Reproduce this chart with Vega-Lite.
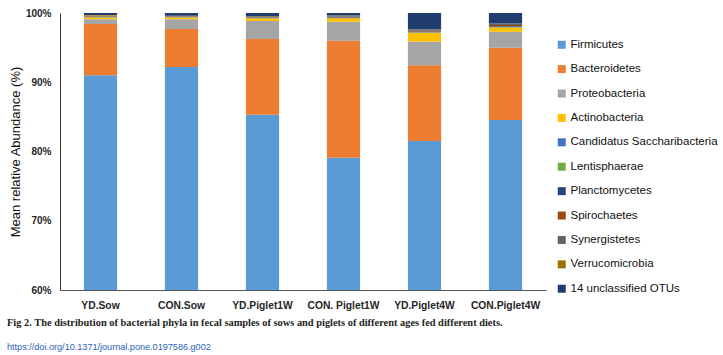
{
  "$schema": "https://vega.github.io/schema/vega-lite/v6.json",
  "width": 486,
  "height": 277,
  "autosize": {"type": "none"},
  "padding": {"left": 60, "top": 13, "right": 177, "bottom": 65},
  "background": "white",
  "title": {
    "text": "Fig 2.  The distribution of bacterial phyla in fecal samples of sows and piglets of different ages fed different diets.",
    "subtitle": "https://doi.org/10.1371/journal.pone.0197586.g002",
    "orient": "bottom",
    "anchor": "start",
    "frame": "group",
    "dx": -53,
    "offset": 8,
    "font": "Liberation Serif",
    "fontSize": 10.4,
    "fontWeight": "bold",
    "color": "#231f20",
    "subtitleFont": "Liberation Sans",
    "subtitleFontSize": 9.1,
    "subtitleColor": "#2a62b8",
    "subtitlePadding": 14
  },
  "datasets": {
    "phyla": [
      {"phylum": "Firmicutes", "rank": 1},
      {"phylum": "Bacteroidetes", "rank": 2},
      {"phylum": "Proteobacteria", "rank": 3},
      {"phylum": "Actinobacteria", "rank": 4},
      {"phylum": "Candidatus Saccharibacteria", "rank": 5},
      {"phylum": "Lentisphaerae", "rank": 6},
      {"phylum": "Planctomycetes", "rank": 7},
      {"phylum": "Spirochaetes", "rank": 8},
      {"phylum": "Synergistetes", "rank": 9},
      {"phylum": "Verrucomicrobia", "rank": 10},
      {"phylum": "14 unclassified OTUs", "rank": 11}
    ]
  },
  "data": {
    "values": [
      {"sample": "YD.Sow", "phylum": "Firmicutes", "value": 91.0},
      {"sample": "YD.Sow", "phylum": "Bacteroidetes", "value": 7.4},
      {"sample": "YD.Sow", "phylum": "Proteobacteria", "value": 0.7},
      {"sample": "YD.Sow", "phylum": "Actinobacteria", "value": 0.25},
      {"sample": "YD.Sow", "phylum": "Candidatus Saccharibacteria", "value": 0.05},
      {"sample": "YD.Sow", "phylum": "Lentisphaerae", "value": 0.05},
      {"sample": "YD.Sow", "phylum": "Planctomycetes", "value": 0.05},
      {"sample": "YD.Sow", "phylum": "Spirochaetes", "value": 0.1},
      {"sample": "YD.Sow", "phylum": "Synergistetes", "value": 0.05},
      {"sample": "YD.Sow", "phylum": "Verrucomicrobia", "value": 0.05},
      {"sample": "YD.Sow", "phylum": "14 unclassified OTUs", "value": 0.3},
      {"sample": "CON.Sow", "phylum": "Firmicutes", "value": 92.2},
      {"sample": "CON.Sow", "phylum": "Bacteroidetes", "value": 5.5},
      {"sample": "CON.Sow", "phylum": "Proteobacteria", "value": 1.4},
      {"sample": "CON.Sow", "phylum": "Actinobacteria", "value": 0.25},
      {"sample": "CON.Sow", "phylum": "Candidatus Saccharibacteria", "value": 0.05},
      {"sample": "CON.Sow", "phylum": "Lentisphaerae", "value": 0.02},
      {"sample": "CON.Sow", "phylum": "Planctomycetes", "value": 0.05},
      {"sample": "CON.Sow", "phylum": "Spirochaetes", "value": 0.05},
      {"sample": "CON.Sow", "phylum": "Synergistetes", "value": 0.05},
      {"sample": "CON.Sow", "phylum": "Verrucomicrobia", "value": 0.03},
      {"sample": "CON.Sow", "phylum": "14 unclassified OTUs", "value": 0.4},
      {"sample": "YD.Piglet1W", "phylum": "Firmicutes", "value": 85.3},
      {"sample": "YD.Piglet1W", "phylum": "Bacteroidetes", "value": 10.95},
      {"sample": "YD.Piglet1W", "phylum": "Proteobacteria", "value": 2.6},
      {"sample": "YD.Piglet1W", "phylum": "Actinobacteria", "value": 0.4},
      {"sample": "YD.Piglet1W", "phylum": "Candidatus Saccharibacteria", "value": 0.05},
      {"sample": "YD.Piglet1W", "phylum": "Lentisphaerae", "value": 0.02},
      {"sample": "YD.Piglet1W", "phylum": "Planctomycetes", "value": 0.05},
      {"sample": "YD.Piglet1W", "phylum": "Spirochaetes", "value": 0.05},
      {"sample": "YD.Piglet1W", "phylum": "Synergistetes", "value": 0.1},
      {"sample": "YD.Piglet1W", "phylum": "Verrucomicrobia", "value": 0.03},
      {"sample": "YD.Piglet1W", "phylum": "14 unclassified OTUs", "value": 0.45},
      {"sample": "CON. Piglet1W", "phylum": "Firmicutes", "value": 79.1},
      {"sample": "CON. Piglet1W", "phylum": "Bacteroidetes", "value": 16.9},
      {"sample": "CON. Piglet1W", "phylum": "Proteobacteria", "value": 2.75},
      {"sample": "CON. Piglet1W", "phylum": "Actinobacteria", "value": 0.5},
      {"sample": "CON. Piglet1W", "phylum": "Candidatus Saccharibacteria", "value": 0.05},
      {"sample": "CON. Piglet1W", "phylum": "Lentisphaerae", "value": 0.02},
      {"sample": "CON. Piglet1W", "phylum": "Planctomycetes", "value": 0.05},
      {"sample": "CON. Piglet1W", "phylum": "Spirochaetes", "value": 0.1},
      {"sample": "CON. Piglet1W", "phylum": "Synergistetes", "value": 0.15},
      {"sample": "CON. Piglet1W", "phylum": "Verrucomicrobia", "value": 0.03},
      {"sample": "CON. Piglet1W", "phylum": "14 unclassified OTUs", "value": 0.35},
      {"sample": "YD.Piglet4W", "phylum": "Firmicutes", "value": 81.5},
      {"sample": "YD.Piglet4W", "phylum": "Bacteroidetes", "value": 10.95},
      {"sample": "YD.Piglet4W", "phylum": "Proteobacteria", "value": 3.45},
      {"sample": "YD.Piglet4W", "phylum": "Actinobacteria", "value": 1.25},
      {"sample": "YD.Piglet4W", "phylum": "Candidatus Saccharibacteria", "value": 0.05},
      {"sample": "YD.Piglet4W", "phylum": "Lentisphaerae", "value": 0.02},
      {"sample": "YD.Piglet4W", "phylum": "Planctomycetes", "value": 0.1},
      {"sample": "YD.Piglet4W", "phylum": "Spirochaetes", "value": 0.1},
      {"sample": "YD.Piglet4W", "phylum": "Synergistetes", "value": 0.15},
      {"sample": "YD.Piglet4W", "phylum": "Verrucomicrobia", "value": 0.03},
      {"sample": "YD.Piglet4W", "phylum": "14 unclassified OTUs", "value": 2.4},
      {"sample": "CON.Piglet4W", "phylum": "Firmicutes", "value": 84.55},
      {"sample": "CON.Piglet4W", "phylum": "Bacteroidetes", "value": 10.45},
      {"sample": "CON.Piglet4W", "phylum": "Proteobacteria", "value": 2.3},
      {"sample": "CON.Piglet4W", "phylum": "Actinobacteria", "value": 0.6},
      {"sample": "CON.Piglet4W", "phylum": "Candidatus Saccharibacteria", "value": 0.05},
      {"sample": "CON.Piglet4W", "phylum": "Lentisphaerae", "value": 0.02},
      {"sample": "CON.Piglet4W", "phylum": "Planctomycetes", "value": 0.1},
      {"sample": "CON.Piglet4W", "phylum": "Spirochaetes", "value": 0.2},
      {"sample": "CON.Piglet4W", "phylum": "Synergistetes", "value": 0.2},
      {"sample": "CON.Piglet4W", "phylum": "Verrucomicrobia", "value": 0.03},
      {"sample": "CON.Piglet4W", "phylum": "14 unclassified OTUs", "value": 1.5}
    ]
  },
  "transform": [
    {"lookup": "phylum", "from": {"data": {"name": "phyla"}, "key": "phylum", "fields": ["rank"]}}
  ],
  "mark": {"type": "bar", "clip": true},
  "encoding": {
    "x": {
      "field": "sample",
      "type": "nominal",
      "sort": ["YD.Sow", "CON.Sow", "YD.Piglet1W", "CON. Piglet1W", "YD.Piglet4W", "CON.Piglet4W"],
      "scale": {"paddingInner": 0.59, "paddingOuter": 0.295},
      "axis": {
        "title": null,
        "labelAngle": 0,
        "ticks": false,
        "labelPadding": 10,
        "labelFont": "Liberation Sans",
        "labelFontSize": 10.3,
        "labelFontWeight": "bold",
        "labelColor": "#262626",
        "domainColor": "#555555",
        "domainWidth": 1
      }
    },
    "y": {
      "field": "value",
      "type": "quantitative",
      "stack": "zero",
      "scale": {"domain": [60, 100], "nice": false},
      "axis": {
        "title": "Mean relative Abundance (%)",
        "titleFont": "Liberation Sans",
        "titleFontSize": 13,
        "titleFontWeight": "normal",
        "titleColor": "#111111",
        "titlePadding": 3,
        "values": [60, 70, 80, 90, 100],
        "labelExpr": "datum.value + '%'",
        "labelFont": "Liberation Sans",
        "labelFontSize": 10,
        "labelFontWeight": "bold",
        "labelColor": "#262626",
        "labelPadding": 9,
        "ticks": false,
        "grid": false,
        "domainColor": "#333333",
        "domainWidth": 1
      }
    },
    "order": {"field": "rank", "type": "quantitative", "sort": "ascending"},
    "color": {
      "field": "phylum",
      "type": "nominal",
      "sort": ["Firmicutes", "Bacteroidetes", "Proteobacteria", "Actinobacteria", "Candidatus Saccharibacteria", "Lentisphaerae", "Planctomycetes", "Spirochaetes", "Synergistetes", "Verrucomicrobia", "14 unclassified OTUs"],
      "scale": {
        "domain": ["Firmicutes", "Bacteroidetes", "Proteobacteria", "Actinobacteria", "Candidatus Saccharibacteria", "Lentisphaerae", "Planctomycetes", "Spirochaetes", "Synergistetes", "Verrucomicrobia", "14 unclassified OTUs"],
        "range": ["#5B9BD5", "#ED7D31", "#A5A5A5", "#FFC000", "#4472C4", "#70AD47", "#264478", "#9E480E", "#636363", "#997300", "#203D6E"]
      },
      "legend": {
        "title": null,
        "orient": "none",
        "legendX": 496,
        "legendY": 26,
        "symbolType": "square",
        "symbolSize": 64,
        "symbolStrokeWidth": 0,
        "labelFont": "Liberation Sans",
        "labelFontSize": 11.5,
        "labelColor": "#111111",
        "labelOffset": 3,
        "rowPadding": 11.4,
        "labelLimit": 200
      }
    }
  },
  "config": {
    "view": {"stroke": null}
  }
}
